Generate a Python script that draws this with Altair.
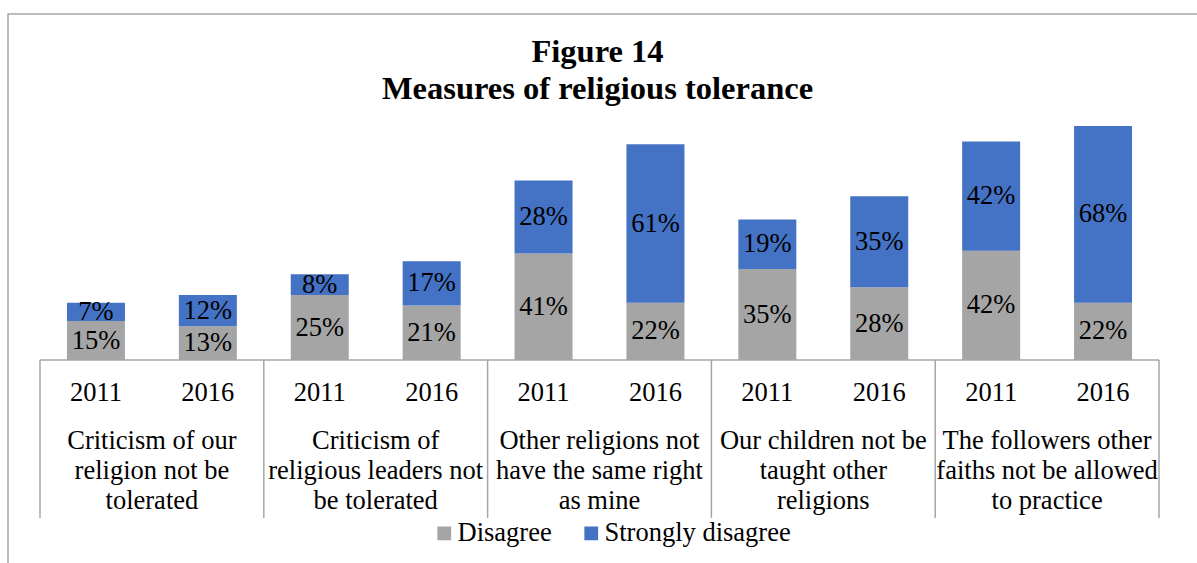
import altair as alt
import pandas as pd

title_lines = ["Figure 14", "Measures of religious tolerance"]
groups = [
    "Criticism of our\nreligion not be\ntolerated",
    "Criticism of\nreligious leaders not\nbe tolerated",
    "Other religions not\nhave the same right\nas mine",
    "Our children not be\ntaught other\nreligions",
    "The followers other\nfaiths not be allowed\nto practice",
]
years = ["2011", "2016"]
disagree = [15, 13, 25, 21, 41, 22, 35, 28, 42, 22]
strongly = [7, 12, 8, 17, 28, 61, 19, 35, 42, 68]
series = ["Disagree", "Strongly disagree"]
colors = ["#A5A5A5", "#4472C4"]

FONT = "Times New Roman"
FS = 26.5

rows = []
for i in range(10):
    pos = i + 0.5
    rows.append({"pos": pos, "series": series[0], "order": 0, "value": disagree[i]})
    rows.append({"pos": pos, "series": series[1], "order": 1, "value": strongly[i]})
bars_df = pd.DataFrame(rows)

year_df = pd.DataFrame({"pos": [i + 0.5 for i in range(10)],
                        "year": [years[i % 2] for i in range(10)]})
group_df = pd.DataFrame({"pos": [2 * g + 1 for g in range(5)], "label": groups})
sep_df = pd.DataFrame({"pos": [0, 2, 4, 6, 8, 10]})
base_df = pd.DataFrame({"a": [0], "b": [10]})

W, H = 1129, 260
xs = alt.Scale(domain=[0, 10], nice=False, zero=False)
ys = alt.Scale(domain=[0, 100], nice=False)
cs = alt.Scale(domain=series, range=colors)

frame = alt.Chart(pd.DataFrame({"k": [0]})).mark_rect(
    fill=None, stroke="#A6A6A6", strokeWidth=1.5, clip=False
).encode(
    x=alt.value(8 - 35), x2=alt.value(1197 - 35 + 20),
    y=alt.value(14 - 100), y2=alt.value(563 - 100 + 20),
)

t1 = alt.Chart(pd.DataFrame({"t": [title_lines[0]]})).mark_text(
    font=FONT, fontSize=32.5, fontWeight="bold", color="#000000", baseline="middle"
).encode(x=alt.value(W / 2 - 2), y=alt.value(52 - 100), text="t:N")
t2 = alt.Chart(pd.DataFrame({"t": [title_lines[1]]})).mark_text(
    font=FONT, fontSize=32.5, fontWeight="bold", color="#000000", baseline="middle"
).encode(x=alt.value(W / 2 - 2), y=alt.value(89 - 100), text="t:N")

bars = alt.Chart(bars_df).mark_bar(size=58).encode(
    x=alt.X("pos:Q", scale=xs, axis=None),
    y=alt.Y("value:Q", stack="zero", scale=ys, axis=None),
    color=alt.Color("series:N", scale=cs, legend=alt.Legend(
        title=None, orient="none", direction="horizontal",
        legendX=396, legendY=420, labelFont=FONT, labelFontSize=FS,
        labelColor="#000000", symbolType="square", symbolSize=190,
        symbolStrokeWidth=0, columnPadding=26, labelOffset=0,
        labelLimit=400,
    )),
    order=alt.Order("order:Q"),
)

labels = alt.Chart(bars_df).transform_stack(
    stack="value", groupby=["pos"], as_=["y0", "y1"],
    sort=[alt.SortField("order")],
).transform_calculate(
    mid="(datum.y0 + datum.y1) / 2",
    txt="datum.value + '%'",
).mark_text(font=FONT, fontSize=FS, color="#000000", baseline="middle").encode(
    x=alt.X("pos:Q", scale=xs),
    y=alt.Y("mid:Q", scale=ys),
    text="txt:N",
)

baseline = alt.Chart(base_df).mark_rule(color="#A6A6A6", strokeWidth=1.5).encode(
    x=alt.X("a:Q", scale=xs), x2="b:Q", y=alt.value(H),
)

seps = alt.Chart(sep_df).mark_rule(color="#A6A6A6", strokeWidth=1.5, clip=False).encode(
    x=alt.X("pos:Q", scale=xs), y=alt.value(H), y2=alt.value(418),
)

year_txt = alt.Chart(year_df).mark_text(
    font=FONT, fontSize=FS, color="#000000", baseline="middle"
).encode(
    x=alt.X("pos:Q", scale=xs), y=alt.value(293), text="year:N",
)

group_txt = alt.Chart(group_df).mark_text(
    font=FONT, fontSize=FS, color="#000000", baseline="middle",
    lineBreak="\n", lineHeight=30,
).encode(
    x=alt.X("pos:Q", scale=xs), y=alt.value(341), text="label:N",
)

chart = alt.layer(frame, t1, t2, bars, labels, baseline, seps, year_txt, group_txt).properties(
    width=W, height=H,
    background="white",
    autosize=alt.AutoSizeParams(type="none"),
    padding={"left": 35, "top": 100, "right": 33, "bottom": 203},
).configure_view(strokeWidth=0, stroke="transparent")

chart.save("out.html", embed_options={"renderer": "svg", "actions": False})
